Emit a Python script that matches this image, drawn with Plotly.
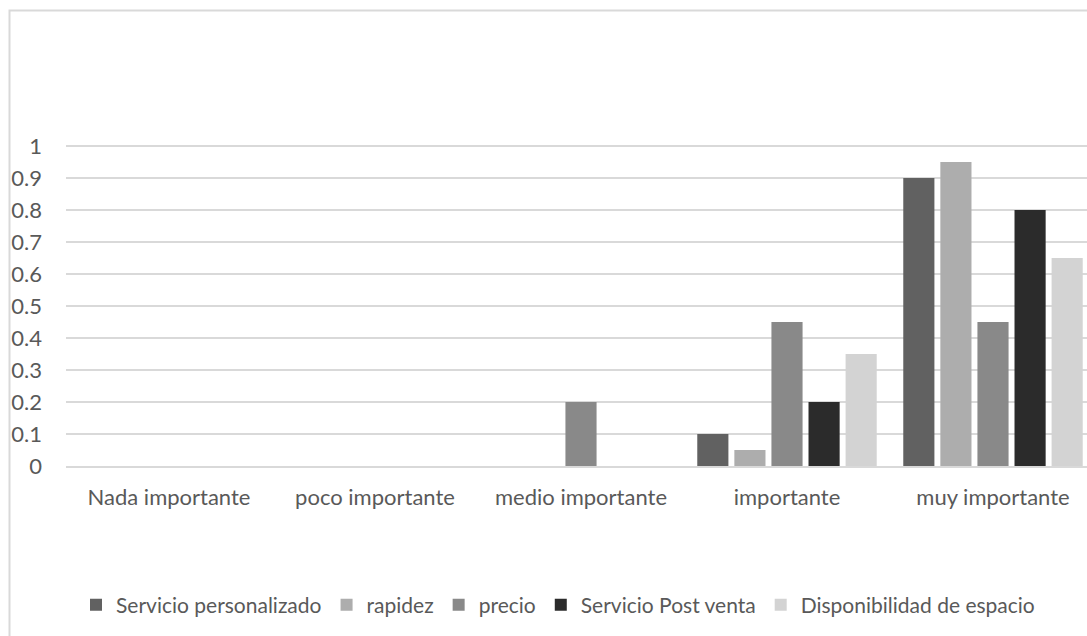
import plotly.graph_objects as go

categories = ["Nada importante", "poco importante", "medio importante", "importante", "muy importante"]

servicio_personalizado = [0, 0, 0, 0.10, 0.90]
rapidez = [0, 0, 0, 0.05, 0.95]
precio = [0, 0, 0.20, 0.45, 0.45]
servicio_post_venta = [0, 0, 0, 0.20, 0.80]
disponibilidad_espacio = [0, 0, 0, 0.35, 0.65]

series = [
    ("Servicio personalizado", servicio_personalizado, "#616161"),
    ("rapidez", rapidez, "#adadad"),
    ("precio", precio, "#898989"),
    ("Servicio Post venta", servicio_post_venta, "#2b2b2b"),
    ("Disponibilidad de espacio", disponibilidad_espacio, "#d3d3d3"),
]

W, H = 1087, 636
L, R, T, B = 66, 0, 130, 170
FONT = "Lato"
FS = 22
TXT = "#595959"

fig = go.Figure()
for name, vals, col in series:
    fig.add_trace(go.Bar(
        x=categories, y=vals, name=name,
        marker=dict(color=col, line=dict(width=0)),
    ))

pw = W - L - R
ph = H - T - B


def px_x(x):
    return (x - L) / pw


def px_y(y):
    return 1 - (y - T) / ph


fig.update_layout(
    width=W, height=H,
    margin=dict(l=L, r=R, t=T, b=B, pad=0),
    paper_bgcolor="white", plot_bgcolor="white",
    barmode="group", bargap=0.10, bargroupgap=0.16,
    font=dict(family=FONT, size=FS, color=TXT),
    showlegend=True,
    legend=dict(
        orientation="h", x=px_x(558), xanchor="center", y=px_y(605), yanchor="middle",
        font=dict(family=FONT, size=21, color=TXT),
        itemclick=False, traceorder="normal",
    ),
    xaxis=dict(
        range=[-0.5, -0.5 + pw / 206], showgrid=False, zeroline=False,
        showline=True, linecolor="#d9d9d9", linewidth=2,
        ticks="", ticklabelstandoff=11, tickfont=dict(family=FONT, size=FS, color=TXT),
        fixedrange=True,
    ),
    yaxis=dict(
        range=[0, ph / 320], tickvals=[i / 10 for i in range(11)],
        ticktext=["0", "0.1", "0.2", "0.3", "0.4", "0.5", "0.6", "0.7", "0.8", "0.9", "1"],
        showgrid=True, gridcolor="#d9d9d9", gridwidth=2,
        zeroline=False, showline=False, ticks="", ticklabelstandoff=23,
        tickfont=dict(family=FONT, size=FS, color=TXT), fixedrange=True,
    ),
    shapes=[dict(
        type="rect", xref="paper", yref="paper",
        x0=px_x(9.5), x1=px_x(1100), y0=px_y(650), y1=px_y(10.5),
        line=dict(color="#d9d9d9", width=2), layer="below",
    )],
)

fig.write_html("out.html")
